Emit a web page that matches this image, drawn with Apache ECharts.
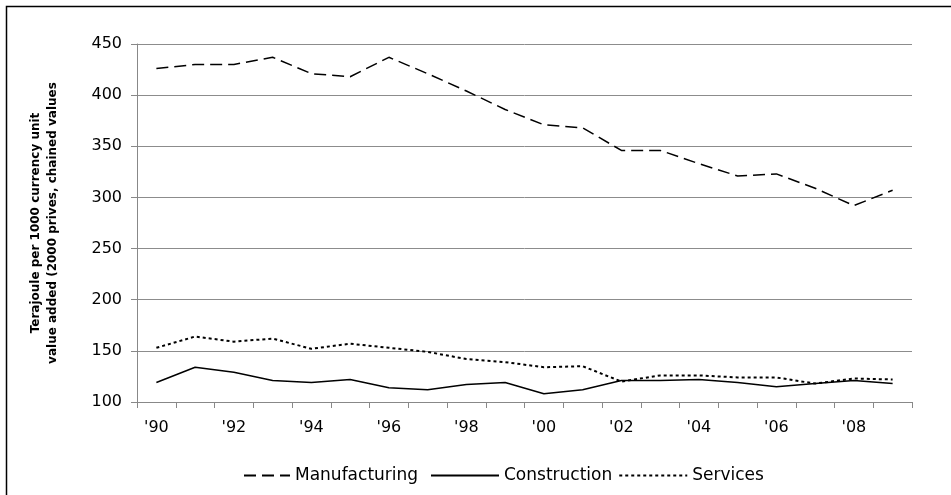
<!DOCTYPE html>
<html><head><meta charset="utf-8">
<script src="https://cdn.jsdelivr.net/npm/echarts@6/dist/echarts.min.js"></script>
<style>html,body{margin:0;padding:0;background:#fff}#c{width:951px;height:495px}</style>
</head><body><div id="c"></div>
<script>
const years = ["'90","'91","'92","'93","'94","'95","'96","'97","'98","'99","'00","'01","'02","'03","'04","'05","'06","'07","'08","'09"];
const manufacturing = [426,430,430,437,421,418,437,421,404,386,371,368,346,346,333,321,323,309,292,307];
const construction = [119,134,129,121,119,122,114,112,117,119,108,112,121,121,122,119,115,118,121,118];
const services = [153,164,159,162,152,157,153,149,142,139,134,135,120,126,126,124,124,118,123,122];
const yAxisName = "Terajoule per 1000 currency unit\nvalue added (2000 prives, chained values";

const chart = echarts.init(document.getElementById('c'));
const font = "'DejaVu Sans', sans-serif";
const legendText = {fontFamily: font, fontSize: 17, color: '#000'};
chart.setOption({
  animation: false,
  backgroundColor: '#fff',
  graphic: [{type:'rect', shape:{x:6.5,y:6.5,width:980,height:520}, style:{fill:'none', stroke:'#000', lineWidth:1.5}}],
  grid: {left:137, right:39, top:44, bottom:93},
  legend: [
    {top: 462, left: 238, itemWidth: 46, itemHeight: 14, itemGap: 10,
     itemStyle: {opacity: 0},
     textStyle: legendText, data: ['Manufacturing']},
    {top: 462, left: 425, itemWidth: 68, itemHeight: 14, itemGap: 6,
     itemStyle: {opacity: 0},
     textStyle: legendText, data: ['Construction','Services']}
  ],
  xAxis: {
    type: 'category', data: years, boundaryGap: true,
    axisLine: {lineStyle:{color:'#888'}},
    axisTick: {show:true, interval:0, length:6, lineStyle:{color:'#888'}},
    axisLabel: {interval:1, fontFamily: font, fontSize:16, color:'#000', margin:18}
  },
  yAxis: {
    type: 'value', min:100, max:450, interval:50,
    name: yAxisName, nameLocation:'middle', nameGap:76, nameRotate:90,
    nameTextStyle: {fontFamily: font, fontSize:12, fontWeight:'bold', color:'#000', lineHeight:17},
    axisLine: {show:true, lineStyle:{color:'#888'}},
    axisTick: {show:true, length:6, lineStyle:{color:'#888'}},
    splitLine: {lineStyle:{color:'#8c8c8c'}},
    axisLabel: {fontFamily: font, fontSize:16, color:'#000', margin:15}
  },
  series: [
    {name:'Manufacturing', type:'line', data:manufacturing, symbol:'none',
     lineStyle:{color:'#000', width:1.5, type:[12,6]}, itemStyle:{color:'#000'}},
    {name:'Construction', type:'line', data:construction, symbol:'none',
     lineStyle:{color:'#000', width:1.5, type:'solid'}, itemStyle:{color:'#000'}},
    {name:'Services', type:'line', data:services, symbol:'none',
     lineStyle:{color:'#000', width:2, type:[3,3]}, itemStyle:{color:'#000'}}
  ]
});
</script></body></html>
